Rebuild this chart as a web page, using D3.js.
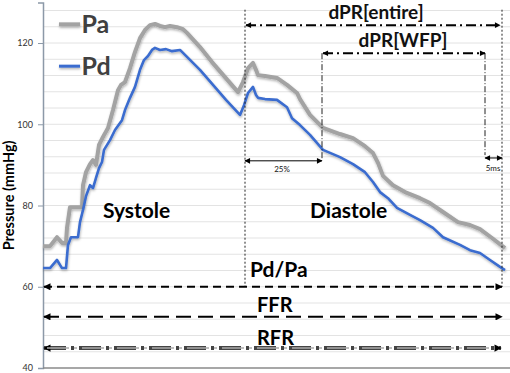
<!DOCTYPE html>
<html>
<head>
<meta charset="utf-8">
<script src="https://cdn.jsdelivr.net/npm/d3@7"></script>
<style>
  body { margin: 0; background: #fff; }
  svg { display: block; }
  text { font-family: Lato, "Liberation Sans", sans-serif; }
</style>
</head>
<body>
<svg id="chart" width="510" height="373"></svg>
<script>
// time (ms, arbitrary) and pressures (mmHg)
var paTime = [0, 7, 14, 19, 23, 24, 27, 39, 40, 43, 47, 50, 53, 56, 60, 65, 70, 75, 78, 82, 87, 92, 97, 102, 107, 112, 117, 122, 127, 134, 140, 144, 157, 169, 182, 195, 200, 205, 210, 213, 215, 222, 234, 244, 254, 257, 267, 280, 297, 310, 322, 330, 335, 340, 350, 362, 377, 387, 400, 415, 427, 437, 449, 462];
var paValues = [70.0, 70.0, 72.2, 70.8, 70.8, 74.5, 79.6, 79.6, 85.0, 88.2, 90.2, 91.2, 90.0, 94.9, 96.9, 99.1, 103.5, 108.4, 109.7, 110.4, 113.8, 117.8, 121.2, 123.2, 124.4, 124.7, 124.2, 123.9, 124.2, 123.9, 123.4, 122.5, 119.0, 115.3, 111.6, 107.9, 110.4, 113.8, 115.1, 113.4, 112.1, 111.9, 111.4, 109.7, 107.7, 106.2, 102.3, 99.1, 97.6, 96.6, 94.6, 92.9, 90.5, 87.3, 85.0, 83.3, 81.8, 80.6, 78.4, 75.9, 75.2, 74.2, 72.0, 69.5];

var pdTime = [0, 7, 14, 19, 23, 25, 28, 35, 37, 40, 43, 47, 50, 53, 56, 59, 61, 67, 72, 79, 82, 87, 92, 97, 101, 105, 109, 112, 117, 123, 129, 137, 144, 157, 170, 183, 197, 201, 205, 210, 213, 215, 222, 234, 244, 249, 257, 267, 280, 297, 310, 322, 330, 337, 345, 354, 367, 377, 390, 400, 417, 427, 437, 447, 457, 462];
var pdValues = [64.6, 64.6, 66.6, 64.6, 64.6, 70.3, 72.2, 72.2, 75.9, 78.9, 82.3, 85.0, 84.3, 86.8, 89.2, 90.7, 93.7, 96.1, 98.6, 101.0, 103.5, 106.5, 109.2, 113.4, 115.8, 116.8, 118.3, 118.8, 118.3, 118.5, 118.0, 118.3, 116.6, 113.4, 109.7, 106.0, 102.3, 104.7, 107.7, 109.2, 107.2, 106.5, 106.2, 106.0, 104.2, 101.5, 99.8, 97.4, 93.7, 91.9, 90.2, 88.2, 85.8, 83.3, 81.8, 79.4, 77.7, 76.4, 74.5, 72.2, 70.3, 69.0, 68.3, 66.6, 64.9, 64.1];

var yTicks = [40, 60, 80, 100, 120];
var gridValues = d3.range(44, 130, 4);

// window markers (ms) and levels (mmHg) for the annotations
var notchTime = 202, endTime = 459, wfpStart = 279, wfpEnd = 442;
var entireLevel = 124.4, wfpLevel = 117.5, pctLevel = 91.0, msLevel = 91.7;
var ratioLines = [
  {name: "Pd/Pa", level: 60.0, dash: "8,5"},
  {name: "FFR", level: 52.6, dash: "15,7"},
  {name: "RFR", level: 44.9, dash: "22,5,3,5"}
];

var svg = d3.select("#chart");
var margin = {top: 2, right: 0, bottom: 5, left: 43};

var x = d3.scaleLinear().domain([0, 467]).range([margin.left, 510]);
var y = d3.scaleLinear().domain([40, 130]).range([368, 2.4]);

var defs = svg.append("defs");
var f = defs.append("filter").attr("id", "shadow").attr("filterUnits", "userSpaceOnUse")
  .attr("x", 0).attr("y", 0).attr("width", 510).attr("height", 373);
f.append("feDropShadow").attr("dx", 0.5).attr("dy", 1.5).attr("stdDeviation", 0.8)
  .attr("flood-color", "#000").attr("flood-opacity", 0.3);

function marker(id, size) {
  defs.append("marker").attr("id", id)
    .attr("viewBox", "0 0 10 10").attr("refX", 9).attr("refY", 5)
    .attr("markerUnits", "userSpaceOnUse")
    .attr("markerWidth", size).attr("markerHeight", size * 0.8)
    .attr("orient", "auto-start-reverse")
    .append("path").attr("d", "M0,0L10,5L0,10z").attr("fill", "#000");
}
marker("arr", 9);
marker("arrSmall", 7);

// grid
svg.append("g").selectAll("line").data(gridValues).enter().append("line")
  .attr("x1", margin.left).attr("x2", 510)
  .attr("y1", function(d) { return y(d); }).attr("y2", function(d) { return y(d); })
  .attr("stroke", "#e3e3e3").attr("stroke-width", 1);

// axes
var yAxis = svg.append("g").attr("transform", "translate(" + margin.left + ",0)")
  .call(d3.axisLeft(y).tickValues(yTicks).tickSize(5).tickPadding(5));
yAxis.select(".domain").attr("stroke", "#8c99a8").attr("stroke-width", 1.5);
yAxis.selectAll(".tick line").attr("stroke", "#8c99a8");
yAxis.selectAll(".tick text").attr("font-size", 9).attr("fill", "#333")
  .attr("font-family", "'Liberation Sans', Arial, sans-serif");

svg.append("line").attr("x1", margin.left).attr("x2", 510)
  .attr("y1", y(40)).attr("y2", y(40)).attr("stroke", "#8a8a8a").attr("stroke-width", 1.5);

svg.append("text")
  .attr("transform", "translate(14," + y(82.5) + ") rotate(-90)")
  .attr("text-anchor", "middle").attr("font-size", 14.5).attr("font-weight", "bold")
  .attr("font-family", "'Liberation Sans', Arial, sans-serif")
  .text("Pressure (mmHg)");

// curves
var line = d3.line().x(function(d) { return x(d[0]); }).y(function(d) { return y(d[1]); });
var paData = d3.zip(paTime, paValues), pdData = d3.zip(pdTime, pdValues);

svg.append("path").datum(paData).attr("d", line)
  .attr("fill", "none").attr("stroke", "#a3a3a3").attr("stroke-width", 4)
  .attr("stroke-linejoin", "round").attr("filter", "url(#shadow)");
svg.append("path").datum(pdData).attr("d", line)
  .attr("fill", "none").attr("stroke", "#3a6ccf").attr("stroke-width", 2.6)
  .attr("stroke-linejoin", "round").attr("filter", "url(#shadow)");

// legend
var legend = [{name: "Pa", color: "#a3a3a3", w: 4, v: 124.6}, {name: "Pd", color: "#3a6ccf", w: 3, v: 114.3}];
legend.forEach(function(l) {
  svg.append("line").attr("x1", x(16)).attr("x2", x(37)).attr("y1", y(l.v)).attr("y2", y(l.v))
    .attr("stroke", l.color).attr("stroke-width", l.w).attr("filter", "url(#shadow)");
  svg.append("text").attr("x", x(38.5)).attr("y", y(l.v) + 9)
    .attr("font-size", 25).attr("font-weight", "bold").attr("fill", "#404040").text(l.name);
});

// phase labels
svg.append("text").attr("x", x(60)).attr("y", y(77)).attr("font-size", 21).attr("font-weight", "bold").text("Systole");
svg.append("text").attr("x", x(267)).attr("y", y(77)).attr("font-size", 21).attr("font-weight", "bold").text("Diastole");

// vertical window markers
[notchTime, endTime].forEach(function(t) {
  svg.append("line").attr("x1", x(t)).attr("x2", x(t)).attr("y1", y(128.2)).attr("y2", y(60))
    .attr("stroke", "#222").attr("stroke-width", 1).attr("stroke-dasharray", "2,2");
});
[[wfpStart, 91.2], [wfpEnd, 92.4]].forEach(function(p) {
  svg.append("line").attr("x1", x(p[0])).attr("x2", x(p[0])).attr("y1", y(wfpLevel)).attr("y2", y(p[1]))
    .attr("stroke", "#222").attr("stroke-width", 1).attr("stroke-dasharray", "6,2,1,2");
});

// dPR arrows
function hArrow(t0, t1, v, dash, w, mk) {
  return svg.append("line").attr("x1", x(t0)).attr("x2", x(t1)).attr("y1", y(v)).attr("y2", y(v))
    .attr("stroke", "#000").attr("stroke-width", w).attr("stroke-dasharray", dash)
    .attr("marker-start", "url(#" + mk + ")").attr("marker-end", "url(#" + mk + ")");
}
hArrow(notchTime + 1, endTime - 2, entireLevel, "10,4,2,4", 2, "arrSmall");
hArrow(wfpStart + 1, wfpEnd, wfpLevel, "10,4,2,4", 2, "arrSmall");
hArrow(notchTime, wfpStart, pctLevel, null, 1, "arrSmall");
hArrow(wfpEnd, endTime, msLevel, null, 1, "arrSmall");

svg.append("text").attr("x", x(333)).attr("y", y(126.0)).attr("text-anchor", "middle")
  .attr("font-size", 19).attr("font-weight", "bold").attr("fill", "#111").text("dPR[entire]");
svg.append("text").attr("x", x(360)).attr("y", y(119.1)).attr("text-anchor", "middle")
  .attr("font-size", 19).attr("font-weight", "bold").attr("fill", "#111").text("dPR[WFP]");
svg.append("text").attr("x", x(239)).attr("y", y(88.2)).attr("text-anchor", "middle")
  .attr("font-size", 8).attr("fill", "#111").text("25%");
svg.append("text").attr("x", x(450)).attr("y", y(88.6)).attr("text-anchor", "middle")
  .attr("font-size", 8).attr("fill", "#111").text("5ms");

// ratio lines
ratioLines.forEach(function(r) {
  if (r.name === "RFR") {
    hArrow(1, endTime - 1, r.level, r.dash, 4, "arr").attr("stroke", "#444");
    svg.append("line").attr("x1", x(4)).attr("x2", x(endTime - 8)).attr("y1", y(r.level)).attr("y2", y(r.level))
      .attr("stroke", "#aaa").attr("stroke-width", 1.5).attr("stroke-dasharray", r.dash);
  } else {
    hArrow(1, endTime, r.level, r.dash, 2, "arr");
  }
});
svg.append("text").attr("x", x(207)).attr("y", y(62.3)).attr("font-size", 21).attr("font-weight", "bold").text("Pd/Pa");
svg.append("text").attr("x", x(214)).attr("y", y(53.7)).attr("font-size", 20).attr("font-weight", "bold").text("FFR");
svg.append("text").attr("x", x(214)).attr("y", y(45.7)).attr("font-size", 20).attr("font-weight", "bold").text("RFR");
</script>
</body>
</html>
